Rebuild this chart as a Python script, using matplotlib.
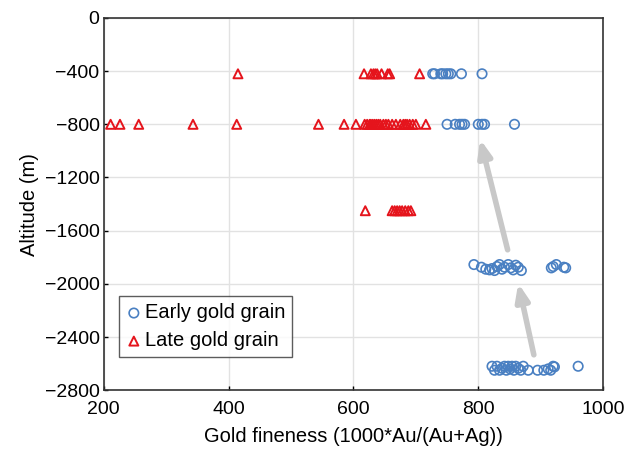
import numpy as np
import matplotlib.pyplot as plt

plt.rcParams['font.family'] = ['Liberation Sans', 'DejaVu Sans']

# late gold grain (fineness, altitude)
late_x = [415, 617, 628, 632, 635, 638, 645, 655, 658, 706,
          211, 226, 256, 343, 413, 544, 585, 604, 618, 622, 626, 628, 631,
          634, 637, 640, 643, 648, 652, 656, 662, 668, 675, 680, 683, 686,
          690, 695, 700, 716,
          619, 662, 666, 670, 674, 678, 683, 688, 692]
late_y = [-420] * 10 + [-800] * 30 + [-1450] * 9

# early gold grain
early_x = [727, 730, 740, 743, 748, 752, 756, 773, 806,
           750, 763, 770, 774, 778, 800, 806, 810, 858,
           793, 805, 812, 818, 822, 826, 830, 834, 838, 842, 848, 852, 856,
           860, 864, 869, 917, 920, 925, 937, 940,
           822, 826, 830, 834, 838, 842, 845, 848, 851, 854, 857, 860, 864,
           868, 872, 880, 895, 905, 912, 916, 920, 922, 960]
early_y = ([-420] * 9 + [-800] * 9 +
           [-1855, -1875, -1890, -1895, -1885, -1900, -1870, -1855, -1890,
            -1875, -1855, -1880, -1895, -1860, -1875, -1900, -1880, -1870,
            -1855, -1875, -1880] +
           [-2620, -2650, -2620, -2650, -2635, -2620, -2650, -2620, -2640,
            -2620, -2650, -2620, -2635, -2650, -2620, -2650, -2650, -2650,
            -2640, -2650, -2620, -2625, -2620])

# trend arrows (tail -> head)
arrows = [((889, -2534), (864, -1995)),
          ((847, -1744), (803, -912))]

fig = plt.figure(figsize=(6.25, 4.49), dpi=100)
ax = fig.add_axes([0.166, 0.131, 0.799, 0.829])

ax.grid(True, color='#e2e2e2', lw=1.0, zorder=0)
ax.set_axisbelow(True)

for tail, head in arrows:
    ax.annotate('', xy=head, xytext=tail,
                arrowprops=dict(arrowstyle='-|>,head_length=1.0,head_width=0.4',
                                lw=4, color='#c8c8c8', shrinkA=0, shrinkB=0),
                zorder=1)

ax.scatter(early_x, early_y, s=46, marker='o', facecolors='none',
           edgecolors='#4a80c2', linewidths=1.2, label='Early gold grain', zorder=3)
ax.scatter(late_x, late_y, s=42, marker='^', facecolors='none',
           edgecolors='#e5141c', linewidths=1.4, label='Late gold grain', zorder=3)

ax.set_xlim(200, 1000)
ax.set_ylim(-2800, 0)
ax.set_xticks(np.arange(200, 1001, 200))
ax.set_yticks(np.arange(-2800, 1, 400))
ax.tick_params(direction='in', length=3, labelsize=14, width=1)
ax.tick_params(axis='x', pad=8)
ax.tick_params(axis='y', pad=3)
for s in ax.spines.values():
    s.set_color('#333333')
    s.set_linewidth(1.2)

ax.set_xlabel('Gold fineness (1000*Au/(Au+Ag))', fontsize=14.5, labelpad=6)
ax.set_ylabel('Altitude (m)', fontsize=14.5, labelpad=4)

leg = ax.legend(loc='lower left', bbox_to_anchor=(0.03, 0.088), fontsize=14.5,
                frameon=True, fancybox=False, edgecolor='#333333',
                handletextpad=0.15, handlelength=0.8, borderpad=0.35,
                labelspacing=0.45, borderaxespad=0)
leg.get_frame().set_linewidth(1.0)

fig.savefig('out.png', dpi=100)
